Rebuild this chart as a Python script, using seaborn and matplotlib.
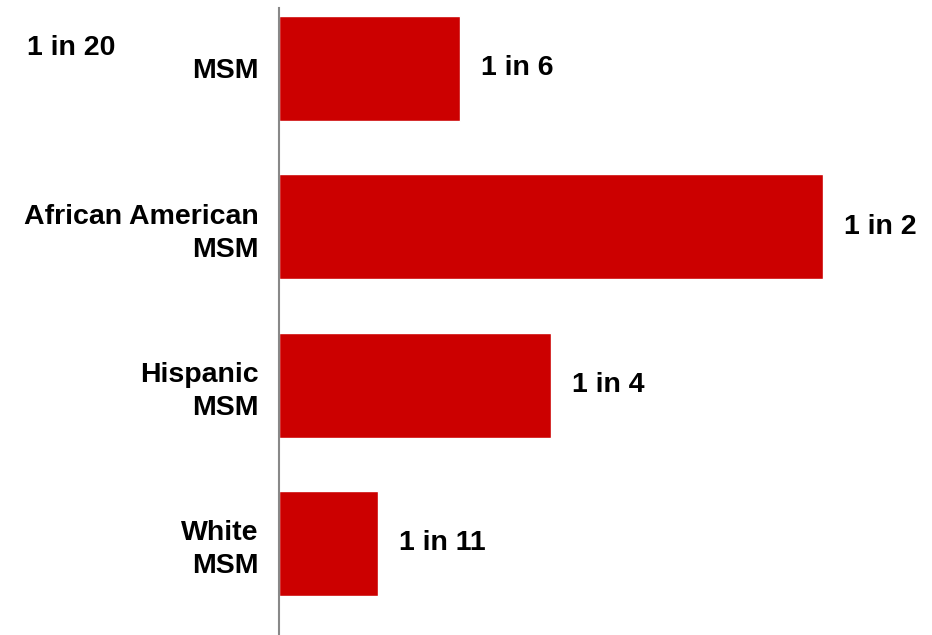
import matplotlib
matplotlib.use("Agg")
import matplotlib.pyplot as plt
import seaborn as sns
import pandas as pd

# Lifetime risk of HIV diagnosis, expressed as "1 in N"
groups = ["MSM", "African American\nMSM", "Hispanic\nMSM", "White\nMSM"]
denominators = [6, 2, 4, 11]
overall_label = "1 in 20"

values = [1 / d for d in denominators]
labels = [f"1 in {d}" for d in denominators]
df = pd.DataFrame({"group": groups, "risk": values})

sns.set_theme(style="white")
plt.rcParams["font.family"] = ["Liberation Sans", "DejaVu Sans"]

FS = 20.5

fig = plt.figure(figsize=(9.32, 6.35), dpi=100)
ax = fig.add_axes([279 / 932, 0.0, 1 - 279 / 932, 1 - 8 / 635])

sns.barplot(data=df, y="group", x="risk", orient="h", color="#CC0000",
            saturation=1, width=0.663, ax=ax)

for i, (v, lab) in enumerate(zip(values, labels)):
    ax.annotate(lab, xy=(v, i), xytext=(15, 0), textcoords="offset points",
                va="center", ha="left", fontsize=FS, fontweight="bold",
                color="black")

ax.set_xlim(0, 0.6)
ax.set_ylim(3.579, -0.382)
ax.set_xlabel("")
ax.set_ylabel("")
ax.set_xticks([])
ax.tick_params(axis="y", length=0, pad=14.5)
for t in ax.get_yticklabels():
    t.set_fontsize(FS)
    t.set_fontweight("bold")
    t.set_color("black")
    t.set_horizontalalignment("right")
    t.set_multialignment("right")
    t.set_linespacing(1.35)

for side in ["top", "right", "bottom"]:
    ax.spines[side].set_visible(False)
ax.spines["left"].set_color("#888888")
ax.spines["left"].set_linewidth(1.5)

fig.text(27 / 932, 1 - 48 / 635, overall_label, ha="left", va="center",
         fontsize=FS, fontweight="bold", color="black")

fig.savefig("out.png", dpi=100)
